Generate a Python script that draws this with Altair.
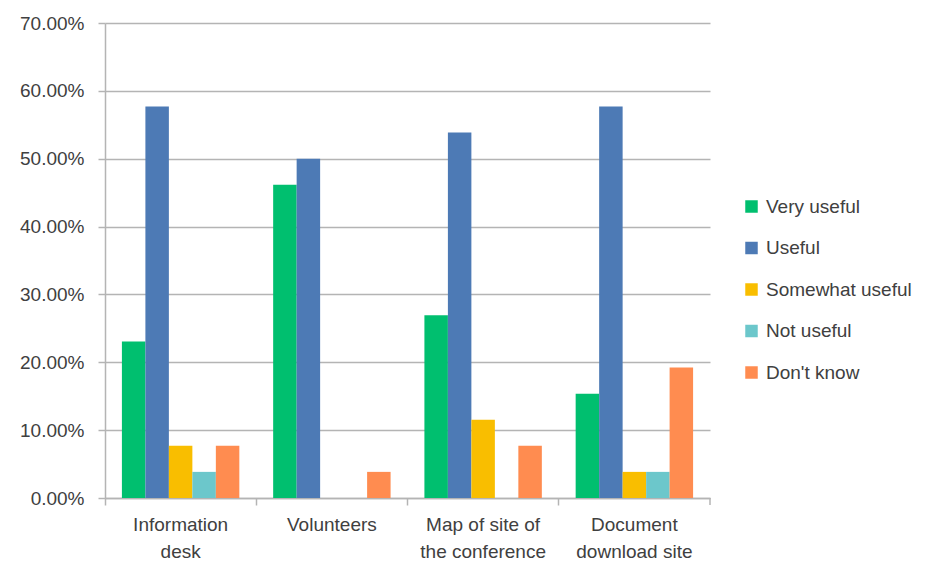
import altair as alt
import pandas as pd

categories = ["Information desk", "Volunteers", "Map of site of the conference", "Document download site"]
category_lines = [["Information", "desk"], ["Volunteers"], ["Map of site of", "the conference"], ["Document", "download site"]]
series = ["Very useful", "Useful", "Somewhat useful", "Not useful", "Don't know"]
colors = ["#00BF6F", "#4D7AB5", "#F9BE00", "#6CC7CB", "#FF8C50"]

very_useful = [23.08, 46.15, 26.92, 15.38]
useful = [57.69, 50.00, 53.85, 57.69]
somewhat_useful = [7.69, 0.00, 11.54, 3.85]
not_useful = [3.85, 0.00, 0.00, 3.85]
dont_know = [7.69, 3.85, 7.69, 19.23]

values = [very_useful, useful, somewhat_useful, not_useful, dont_know]
rows = []
for s, vals in zip(series, values):
    for c, v in zip(categories, vals):
        rows.append({"category": c, "series": s, "value": v / 100.0})
df = pd.DataFrame(rows)

label_expr = " : ".join(
    f"datum.value == '{c}' ? {lines!r}" for c, lines in zip(categories, category_lines)
) + " : datum.label"

FONT = "Liberation Sans"
FS = 19
TXT = "#404040"
GRID = "#B4B4B4"

bars = alt.Chart(df).mark_bar(stroke=None).encode(
    x=alt.X("category:N", sort=categories,
            scale=alt.Scale(paddingInner=0, paddingOuter=0),
            axis=alt.Axis(title=None, labelAngle=0, labelExpr=label_expr, bandPosition=0,
                          domainColor=GRID, domainWidth=1.5, tickColor=GRID, tickWidth=1.5,
                          tickSize=7, labelPadding=10, labelFont=FONT, labelFontSize=FS,
                          labelColor=TXT, labelLineHeight=27, grid=False)),
    xOffset=alt.XOffset("series:N", sort=series,
                        scale=alt.Scale(paddingInner=0, paddingOuter=0.72)),
    y=alt.Y("value:Q", scale=alt.Scale(domain=[0, 0.7], nice=False),
            axis=alt.Axis(title=None, format=".2%", values=[0, 0.1, 0.2, 0.3, 0.4, 0.5, 0.6, 0.7],
                          domainColor=GRID, domainWidth=1.5, tickColor=GRID, tickWidth=1.5,
                          tickSize=7, labelPadding=14, labelFont=FONT, labelFontSize=FS,
                          labelColor=TXT, gridColor=GRID, gridWidth=1.5)),
    color=alt.Color("series:N", sort=series,
                    scale=alt.Scale(domain=series, range=colors),
                    legend=alt.Legend(title=None, orient="none", legendX=637, legendY=174,
                                      symbolType="square", symbolSize=156, symbolStrokeWidth=0,
                                      labelFont=FONT, labelFontSize=FS, labelColor=TXT,
                                      rowPadding=21.5, labelOffset=5)),
)

end_tick = alt.Chart(pd.DataFrame({"k": [0]})).mark_rule(color=GRID, strokeWidth=1.5).encode(
    x=alt.value(605), x2=alt.value(605), y=alt.value(475), y2=alt.value(482)
)

chart = alt.layer(bars, end_tick).properties(
    width=605, height=475,
    background="white",
    autosize=alt.AutoSizeParams(type="none"),
    padding={"left": 97, "top": 15, "right": 220, "bottom": 66},
).configure_view(stroke=None)

chart.save("out.html", embed_options={"renderer": "svg", "actions": False})
